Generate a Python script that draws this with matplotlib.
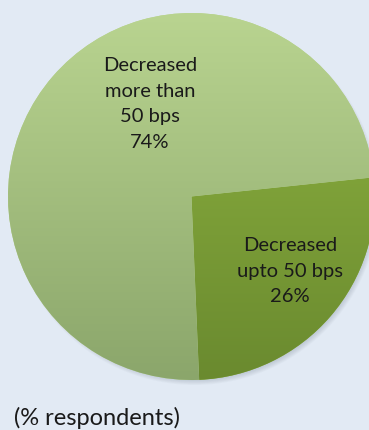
import numpy as np
import matplotlib.pyplot as plt
from matplotlib.colors import LinearSegmentedColormap
from matplotlib.patches import Circle

# survey split (% respondents)
labels = ["Decreased\nupto 50 bps\n26%", "Decreased\nmore than\n50 bps\n74%"]
shares = [26, 74]
top_colors = ["#90b541", "#b9d490"]
bottom_colors = ["#6a8a2f", "#8ba66b"]

W, H = 369, 430
fig = plt.figure(figsize=(W / 100, H / 100), dpi=100)
fig.patch.set_facecolor("#e2eaf4")
ax = fig.add_axes([0, 0, 1, 1])

cx, cy, r = 191.5, 233.5, 183.5

# soft drop shadow under the pie
for i in range(8):
    ax.add_patch(Circle((cx + 3, cy - 4), r + 1 - i * 0.8, color="#5a6a7a",
                        alpha=0.035, lw=0, zorder=0))

wedges, _ = ax.pie(shares, center=(cx, cy), radius=r, startangle=6,
                   counterclock=False, colors=top_colors,
                   wedgeprops=dict(linewidth=0), frame=True)
ax.set_xlim(0, W)
ax.set_ylim(0, H)
ax.set_aspect("equal")
ax.axis("off")

# vertical gradient fill clipped to each wedge
grad = np.linspace(0, 1, 256).reshape(-1, 1)
for w, c0, c1 in zip(wedges, top_colors, bottom_colors):
    cmap = LinearSegmentedColormap.from_list("g", [c1, c0])
    im = ax.imshow(grad, cmap=cmap, origin="lower", aspect="auto",
                   extent=[cx - r, cx + r, cy - r, cy + r], zorder=2)
    im.set_clip_path(w)

font = "Lato"
ax.text(150, H - 104, labels[1], ha="center", va="center", fontsize=14.5,
        family=font, color="#1a1a1a", linespacing=1.6, zorder=3)
ax.text(290, H - 271, labels[0], ha="center", va="center", fontsize=14.5,
        family=font, color="#1a1a1a", linespacing=1.6, zorder=3)
ax.text(14, H - 418, "(% respondents)", ha="left", va="center", fontsize=17,
        family=font, color="#1a1a1a", zorder=3)

fig.savefig("out.png", dpi=100, facecolor=fig.get_facecolor())
